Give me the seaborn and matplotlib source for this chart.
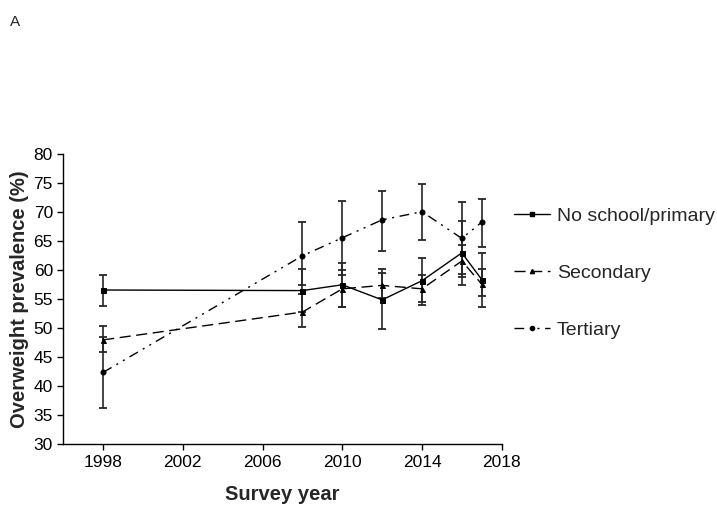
import numpy as np
import pandas as pd
import matplotlib
matplotlib.use("Agg")
import matplotlib.pyplot as plt
import seaborn as sns

sns.set_theme(style="ticks")
plt.rcParams["font.family"] = ["Liberation Sans", "DejaVu Sans"]

years = [1998, 2008, 2010, 2012, 2014, 2016, 2017]
groups = ["No school/primary", "Secondary", "Tertiary"]

no_school = [56.6, 56.5, 57.5, 54.9, 58.2, 63.0, 58.4]
no_school_lo = [53.9, 52.8, 53.6, 49.9, 54.5, 57.4, 53.7]
no_school_hi = [59.2, 60.2, 61.2, 60.2, 62.1, 68.5, 62.9]

secondary = [48.0, 52.8, 56.8, 57.4, 56.8, 61.6, 57.6]
secondary_lo = [45.9, 50.2, 53.6, 55.2, 54.1, 58.8, 55.6]
secondary_hi = [50.4, 55.9, 60.0, 59.6, 59.2, 64.4, 60.2]

tertiary = [42.4, 62.5, 65.6, 68.7, 70.1, 65.5, 68.3]
tertiary_lo = [36.3, 57.4, 59.2, 63.3, 65.2, 59.3, 64.1]
tertiary_hi = [48.5, 68.4, 72.0, 73.7, 74.8, 71.7, 72.3]

values = [no_school, secondary, tertiary]
lows = [no_school_lo, secondary_lo, tertiary_lo]
highs = [no_school_hi, secondary_hi, tertiary_hi]

df = pd.DataFrame({
    "year": years * 3,
    "prevalence": no_school + secondary + tertiary,
    "group": np.repeat(groups, len(years)),
})

markers = {"No school/primary": "s", "Secondary": "^", "Tertiary": "o"}
dashes = {"No school/primary": "", "Secondary": (8, 4), "Tertiary": (7, 4, 1.5, 4, 1.5, 4)}

fig = plt.figure(figsize=(7.17, 5.08), dpi=100)
ax = fig.add_axes([0.0883, 0.1254, 0.6114, 0.5709])

sns.lineplot(data=df, x="year", y="prevalence", hue="group", style="group",
             palette=["black"] * 3, markers=markers, dashes=dashes,
             markersize=3.6, linewidth=1.0, markeredgecolor="black",
             errorbar=None, legend=False, ax=ax)

for v, lo, hi in zip(values, lows, highs):
    v = np.array(v)
    yerr = [v - np.array(lo), np.array(hi) - v]
    ax.errorbar(years, v, yerr=yerr, fmt="none", ecolor="#262626",
                elinewidth=1.2, capsize=3, capthick=1.3, zorder=1)

ax.set_xlim(1996, 2018)
ax.set_ylim(30, 80)
ax.set_xticks([1998, 2002, 2006, 2010, 2014, 2018])
ax.set_yticks(np.arange(30, 81, 5))
ax.tick_params(axis="both", labelsize=12.5, length=4, width=1, color="black",
               labelcolor="black", direction="out")
for s in ["left", "bottom"]:
    ax.spines[s].set_color("black")
    ax.spines[s].set_linewidth(1)
sns.despine(ax=ax)

ax.set_xlabel("Survey year", fontsize=14.5, fontweight="bold", labelpad=11)
ax.set_ylabel("Overweight prevalence (%)", fontsize=14.5, fontweight="bold", labelpad=3)

handles = []
for g in groups:
    h = plt.Line2D([], [], color="black", linewidth=1.0, marker=markers[g],
                   markersize=3.0, dashes=dashes[g] if dashes[g] else (None, None))
    handles.append(h)
fig.legend(handles, groups, loc="upper left", bbox_to_anchor=(0.706, 0.608),
           frameon=False, fontsize=14, handlelength=1.85, handletextpad=0.36,
           labelspacing=2.04, borderaxespad=0)

fig.text(0.014, 0.957, "A", fontsize=11, ha="left", va="center")

fig.savefig("out.png", dpi=100, facecolor="white")
